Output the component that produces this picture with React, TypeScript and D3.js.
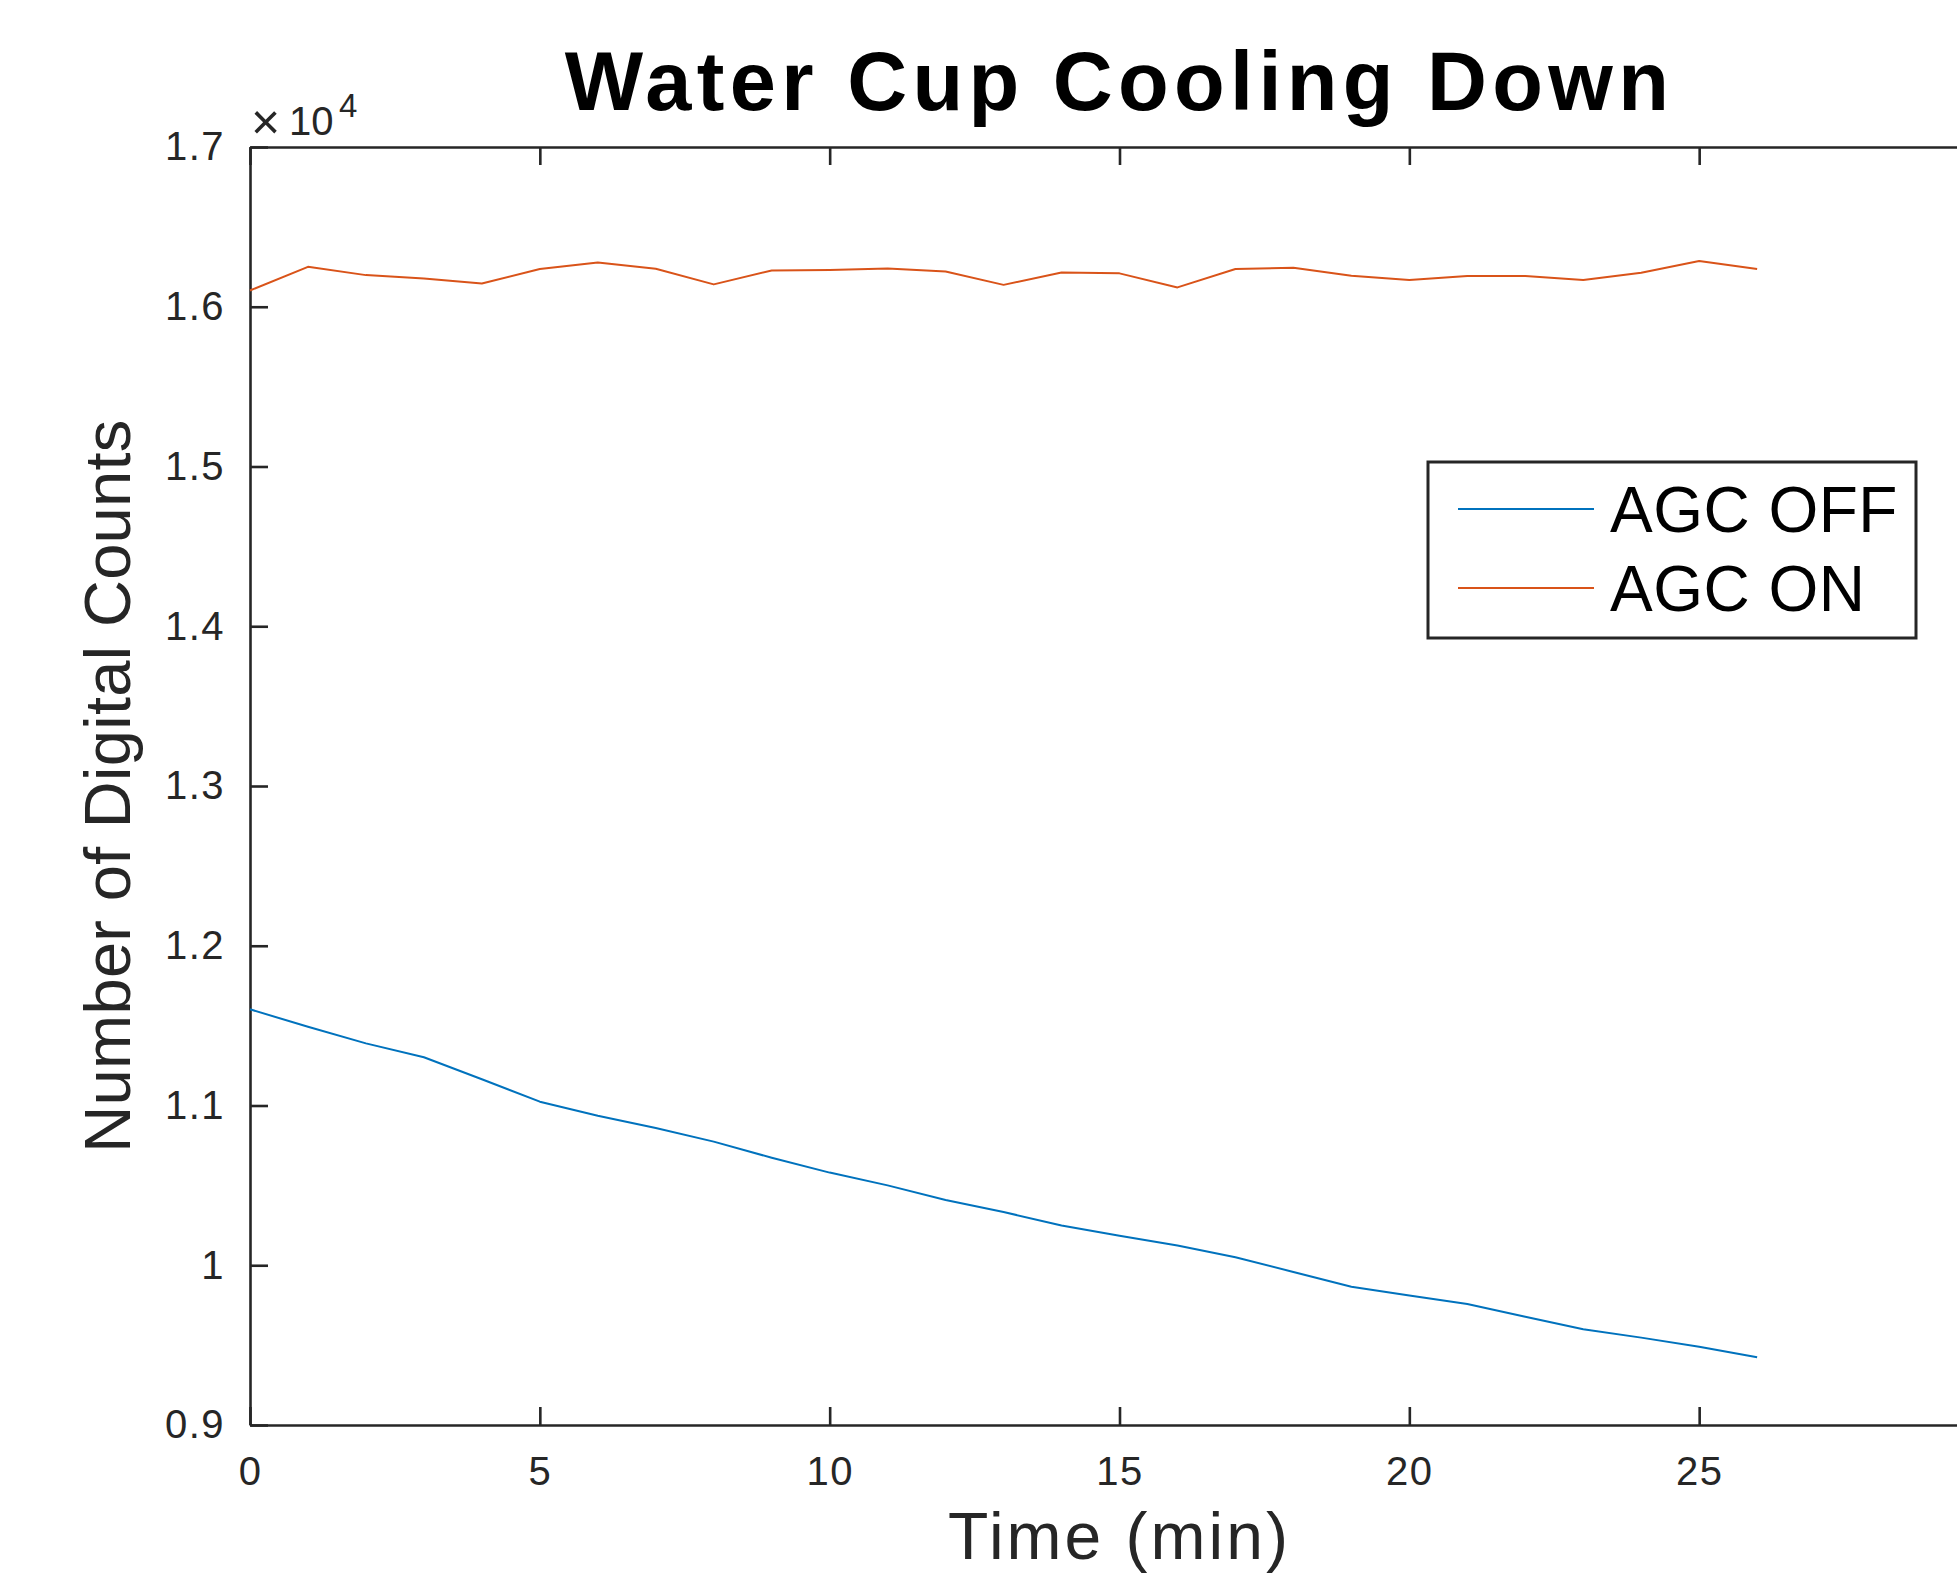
import React, { useEffect, useRef } from 'react'
import * as d3 from 'd3'

// minutes
const minutes = [0, 1, 2, 3, 4, 5, 6, 7, 8, 9, 10, 11, 12, 13, 14, 15, 16, 17, 18, 19, 20, 21, 22, 23, 24, 25, 26]

const agcOff = [11602, 11493, 11389, 11302, 11164, 11024, 10936, 10859, 10774, 10673, 10580, 10500, 10409, 10333,
  10249, 10185, 10123, 10050, 9958, 9866, 9810, 9757, 9678, 9599, 9547, 9490, 9424]

const agcOn = [16102, 16250, 16198, 16177, 16146, 16236, 16277, 16238, 16140, 16227, 16230, 16240, 16221, 16137,
  16214, 16209, 16121, 16236, 16244, 16194, 16167, 16192, 16192, 16167, 16213, 16286, 16236]

const xTicks = [0, 5, 10, 15, 20, 25, 30]
const yTicks = [9000, 10000, 11000, 12000, 13000, 14000, 15000, 16000, 17000]

const seriesNames = ['AGC OFF', 'AGC ON']
const seriesColors = ['#0072BD', '#D95319']

const W = 1957, H = 1575
const margin = { top: 147, left: 250, right: -32, bottom: 150 }
const axisColor = '#262626'
const font = '"Liberation Sans", Arial, Helvetica, sans-serif'

export default function App() {
  const ref = useRef<SVGSVGElement>(null)

  useEffect(() => {
    const svg = d3.select(ref.current)
    svg.selectAll('*').remove()

    const x = d3.scaleLinear().domain([0, 30]).range([margin.left, W - margin.right])
    const y = d3.scaleLinear().domain([9000, 17000]).range([H - margin.bottom, margin.top])

    const styleAxis = (g: any) => {
      g.select('.domain').attr('stroke', axisColor).attr('stroke-width', 2.6)
      g.selectAll('.tick line').attr('stroke', axisColor).attr('stroke-width', 2.6)
      g.selectAll('.tick text').attr('fill', axisColor)
        .attr('font-family', null).attr('font-size', null)
        .style('font-family', font).style('font-size', '40px').style('letter-spacing', '1.5px')
    }

    // bottom -- the 30 label falls outside the picture, so it is left blank
    svg.append('g')
      .attr('transform', `translate(0,${y(9000)})`)
      .call(d3.axisBottom(x).tickValues(xTicks).tickSizeInner(-18).tickSizeOuter(0).tickPadding(32)
        .tickFormat((d: any) => (x(d) + 25 < W ? String(d) : '')))
      .call(styleAxis)
    // top
    svg.append('g')
      .attr('transform', `translate(0,${y(17000)})`)
      .call(d3.axisTop(x).tickValues(xTicks).tickSizeInner(-18).tickSizeOuter(0).tickFormat(() => ''))
      .call(styleAxis)
    // left
    svg.append('g')
      .attr('transform', `translate(${x(0)},0)`)
      .call(d3.axisLeft(y).tickValues(yTicks).tickSizeInner(-18).tickSizeOuter(0).tickPadding(25)
        .tickFormat((d: any) => String(d / 10000)))
      .call(styleAxis)
    // right (off the picture)
    svg.append('g')
      .attr('transform', `translate(${x(30)},0)`)
      .call(d3.axisRight(y).tickValues(yTicks).tickSizeInner(-18).tickSizeOuter(0).tickFormat(() => ''))
      .call(styleAxis)

    svg.selectAll('.tick text').filter(function () { return d3.select(this).text() === '' }).remove()

    // exponent
    const exp = svg.append('text')
      .attr('y', 135)
      .attr('fill', axisColor)
      .style('font-family', font).style('font-size', '40px')
    exp.append('tspan').attr('x', 251).attr('y', 139).style('font-size', '50px').text('×')
    exp.append('tspan').attr('x', 289).attr('y', 135).text('10')
    exp.append('tspan').attr('x', 339).attr('y', 117).style('font-size', '33px').text('4')

    const line = d3.line<number>().x((d, i) => x(minutes[i])).y(d => y(d))
    const series = [agcOff, agcOn]
    series.forEach((s, i) => {
      svg.append('path')
        .datum(s)
        .attr('fill', 'none')
        .attr('stroke', seriesColors[i])
        .attr('stroke-width', 2)
        .attr('stroke-linejoin', 'round')
        .attr('d', line)
    })

    // title
    svg.append('text')
      .attr('x', (x(0) + x(30)) / 2).attr('y', 110)
      .attr('text-anchor', 'middle')
      .style('font-family', font).style('font-size', '83px').style('font-weight', 'bold')
      .style('letter-spacing', '5.3px')
      .attr('fill', '#000')
      .text('Water Cup Cooling Down')

    // axis labels
    svg.append('text')
      .attr('x', (x(0) + x(30)) / 2).attr('y', 1559)
      .attr('text-anchor', 'middle')
      .style('font-family', font).style('font-size', '66px').style('letter-spacing', '3px')
      .attr('fill', axisColor)
      .text('Time (min)')

    svg.append('text')
      .attr('transform', `translate(130,${(y(9000) + y(17000)) / 2}) rotate(-90)`)
      .attr('text-anchor', 'middle')
      .style('font-family', font).style('font-size', '65px').style('letter-spacing', '0.3px')
      .attr('fill', axisColor)
      .text('Number of Digital Counts')

    // legend
    const lg = svg.append('g')
    lg.append('rect')
      .attr('x', 1428).attr('y', 462).attr('width', 488).attr('height', 176)
      .attr('fill', '#fff').attr('stroke', axisColor).attr('stroke-width', 3)
    seriesNames.forEach((name, i) => {
      const cy = 509 + i * 79
      lg.append('line')
        .attr('x1', 1458).attr('x2', 1594).attr('y1', cy).attr('y2', cy)
        .attr('stroke', seriesColors[i]).attr('stroke-width', 2)
      lg.append('text')
        .attr('x', 1610).attr('y', cy + 23)
        .style('font-family', font).style('font-size', '64px').style('letter-spacing', '0.5px')
        .attr('fill', '#000')
        .text(name)
    })
  }, [])

  return (
    <>
      <style>{'body{margin:0}'}</style>
      <svg ref={ref} width={W} height={H} style={{ display: 'block', background: '#fff' }} />
    </>
  )
}
